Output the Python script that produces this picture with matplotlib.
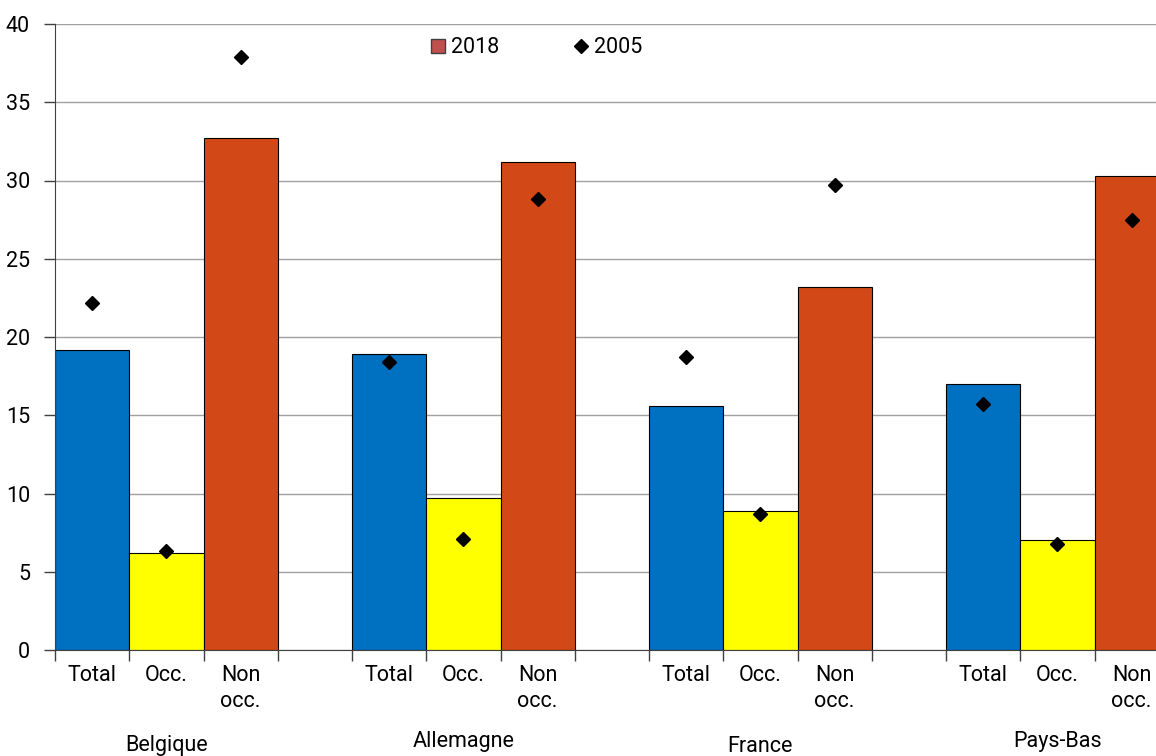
import matplotlib.pyplot as plt
import numpy as np

plt.rcParams['font.family'] = ['Roboto', 'DejaVu Sans']

# data
countries = ['Belgique', 'Allemagne', 'France', 'Pays-Bas']
sub_labels = ['Total', 'Occ.', 'Non\nocc.']
val_2018_total = [19.2, 18.9, 15.6, 17.0]
val_2018_occ = [6.2, 9.7, 8.9, 7.0]
val_2018_nonocc = [32.7, 31.2, 23.2, 30.3]
val_2005_total = [22.2, 18.4, 18.7, 15.7]
val_2005_occ = [6.3, 7.1, 8.7, 6.8]
val_2005_nonocc = [37.9, 28.8, 29.7, 27.5]

colors = ['#0070c0', '#ffff00', '#d34817']
fs = 15.5

fig = plt.figure(figsize=(11.56, 7.56), dpi=100)
ax = fig.add_axes([55 / 1156, 1 - 650 / 756, 1101 / 1156, 626 / 756])

series_2018 = [val_2018_total, val_2018_occ, val_2018_nonocc]
series_2005 = [val_2005_total, val_2005_occ, val_2005_nonocc]
for g in range(len(countries)):
    for k in range(3):
        x = g * 4 + k
        ax.bar(x, series_2018[k][g], width=1.0, align='edge', color=colors[k],
               edgecolor='black', linewidth=0.8, zorder=2)
        ax.plot(x + 0.5, series_2005[k][g], marker='D', color='black',
                markersize=7.5, linestyle='none', zorder=3)

ax.set_ylim(0, 40)
ax.set_yticks(np.arange(0, 41, 5))
ax.yaxis.grid(True, color='#a0a0a0', linewidth=1.0, zorder=0)
ax.set_axisbelow(True)
for s in ['top', 'right']:
    ax.spines[s].set_visible(False)
ax.spines['left'].set_color('#404040')
ax.spines['bottom'].set_color('#404040')
ax.tick_params(axis='y', labelsize=fs, length=8, width=1, color='#404040', pad=10)

# slot boundaries as major ticks, sub labels as minor
ax.set_xticks(np.arange(0, 16))
ax.set_xticklabels([])
ax.tick_params(axis='x', which='major', length=8, width=1, color='#404040')
minor_pos = []
minor_lab = []
for g in range(len(countries)):
    for k in range(3):
        minor_pos.append(g * 4 + k + 0.5)
        minor_lab.append(sub_labels[k])
ax.set_xticks(minor_pos, minor=True)
ax.set_xticklabels(minor_lab, minor=True, fontsize=fs, va='top', linespacing=1.32)
ax.tick_params(axis='x', which='minor', length=0, pad=10.5)
ax.set_xlim(0, 1101 / 74.25)

label_y = [745, 742, 747, 742]
for g, c in enumerate(countries):
    xc = ax.transData.transform((g * 4 + 1.5, 0))[0]
    fig.text(xc / 1156, 1 - label_y[g] / 756, c, ha='center', va='center', fontsize=fs)

# legend
h1 = plt.Line2D([], [], marker='s', color='#c0504d', markeredgecolor='#404040',
                markersize=10, linestyle='none')
h2 = plt.Line2D([], [], marker='D', color='black', markersize=7, linestyle='none')
ax.legend([h1, h2], ['2018', '2005'], ncol=2, loc='center', bbox_to_anchor=(0.436, 0.962),
          frameon=False, fontsize=fs, handletextpad=0.1, columnspacing=3.3,
          handlelength=1.0)

fig.savefig('out.png', dpi=100)
